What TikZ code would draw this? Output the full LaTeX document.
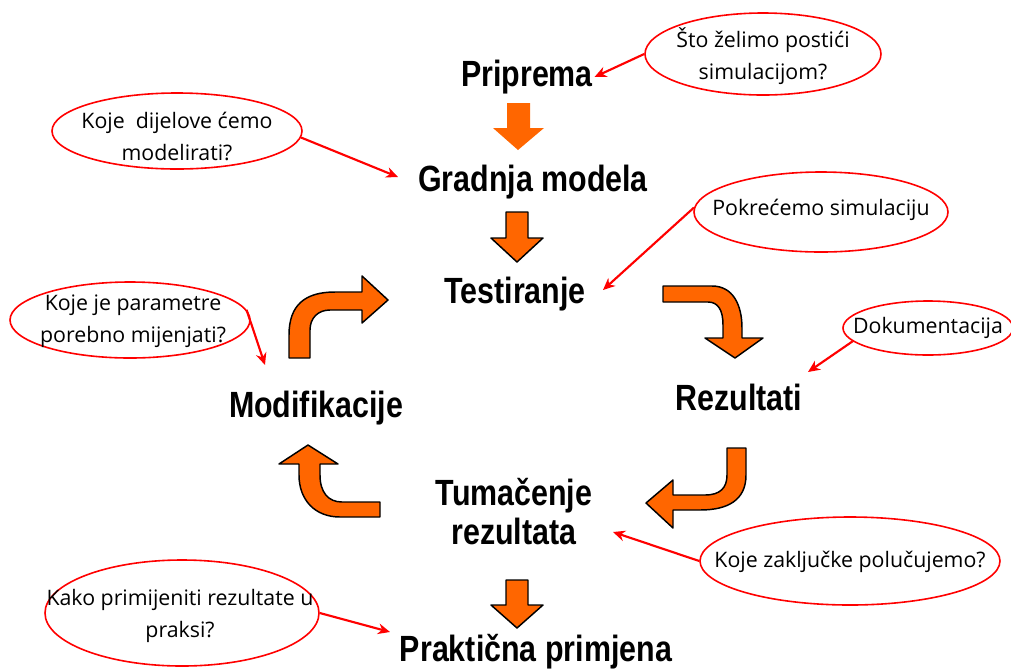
\documentclass[tikz,border=0pt]{standalone}
\usepackage{fontspec}
\setmainfont{Liberation Sans}
\newfontfamily\bubblefont{Open Sans}
\usetikzlibrary{arrows.meta,shapes.geometric}
\definecolor{arrorange}{RGB}{255,102,0}
\definecolor{bubred}{RGB}{255,0,0}
\newcommand{\tallbold}[1]{\scalebox{1}[1.2]{\bfseries #1}}
\begin{document}
\begin{tikzpicture}[x=0.75pt,y=-0.75pt,
 mainlabel/.style={inner sep=1pt, font=\fontsize{22.8}{29.25}\selectfont\bfseries, align=center},
 bubble/.style={ellipse, draw=bubred, line width=1.2pt, fill=white, inner sep=0pt},
 bubbletext/.style={font=\bubblefont\fontsize{16}{24}\selectfont, align=center, inner sep=0pt},
 note/.style={draw=bubred, line width=1.6pt, -{Stealth[length=9pt,width=8pt]}},
 bentarrow/.style={fill=arrorange, draw=black, line width=1.1pt, line join=round},
 plainarrow/.style={fill=arrorange, draw=none},
 ]
\useasboundingbox (0,0) rectangle (1011,669);

% main labels
\node[mainlabel] (prep) at (527,77) {\tallbold{Priprema}};
\node[mainlabel] (grad) at (533,182) {\tallbold{Gradnja modela}};
\node[mainlabel] (test) at (515,294) {\tallbold{Testiranje}};
\node[mainlabel] (rez) at (739,397) {\tallbold{Rezultati}};
\node[mainlabel] (mod) at (316,408) {\tallbold{Modifikacije}};
\node[mainlabel] (tum) at (514,512) {\tallbold{Tumačenje}\\\tallbold{rezultata}};
\node[mainlabel] (prak) at (536,652) {\tallbold{Praktična primjena}};

% straight arrows
\path[plainarrow] (507,103) -- (530,103) -- (530,128) -- (544,128) -- (518,150) -- (493,128) -- (507,128) -- cycle;
\path[bentarrow] (506,212) -- (528,212) -- (528,238) -- (543,238) -- (517,262) -- (491,238) -- (506,238) -- cycle;
\path[bentarrow] (506,580) -- (528,580) -- (528,605) -- (543,605) -- (517,628) -- (491,605) -- (506,605) -- cycle;

% bent arrows
\path[bentarrow] (289,358) -- (289,335) .. controls (289,305) and (305,292) .. (335,292) -- (362,292) -- (362,276) -- (388,300) -- (362,323) -- (362,310) -- (330,310) .. controls (318,310) and (310,318) .. (310,330) -- (310,358) -- cycle;
\path[bentarrow] (663,286) -- (712,286) .. controls (733,286) and (742,305) .. (742,328) -- (742,338) -- (763,338) -- (735,358) -- (705,338) -- (723,338) -- (723,325) .. controls (723,310) and (718,302) .. (708,302) -- (663,302) -- cycle;
\path[bentarrow] (727,448) -- (746,448) -- (746,475) .. controls (746,500) and (728,510) .. (700,510) -- (673,510) -- (673,528) -- (646,503) -- (673,480) -- (673,495) -- (705,495) .. controls (720,495) and (727,488) .. (727,475) -- cycle;
\path[bentarrow] (380,502) -- (380,517) -- (340,517) .. controls (315,517) and (299,500) .. (299,475) -- (299,464) -- (279,464) -- (308,445) -- (338,464) -- (320,464) -- (320,475) .. controls (320,492) and (328,502) .. (342,502) -- cycle;

% bubbles
\node[bubble, minimum width=177pt, minimum height=61.5pt] (e1) at (763,54) {};
\node[bubbletext] (e1t) at (763,56) {Što želimo postići\\simulacijom?};
\node[bubble, minimum width=187.5pt, minimum height=57pt] (e2) at (177,131) {};
\node[bubbletext] (e2t) at (177,136) {Koje \ dijelove ćemo\\modelirati?};
\node[bubble, minimum width=190.5pt, minimum height=60pt] (e3) at (821,212) {};
\node[bubbletext] (e3t) at (821,210) {Pokrećemo simulaciju};
\node[bubble, minimum width=180pt, minimum height=57pt] (e4) at (130,320) {};
\node[bubbletext] (e4t) at (133,321) {Koje je parametre\\porebno mijenjati?};
\node[bubble, minimum width=127.5pt, minimum height=40.5pt] (e5) at (928,328) {};
\node[bubbletext] (e5t) at (928,328) {Dokumentacija};
\node[bubble, minimum width=225pt, minimum height=66pt] (e6) at (850,561) {};
\node[bubbletext] (e6t) at (850,562) {Koje zaključke polučujemo?};
\node[bubble, minimum width=205.5pt, minimum height=79.5pt] (e7) at (182,613) {};
\node[bubbletext] (e7t) at (180,616) {Kako primijeniti rezultate u\\praksi?};

% arrow tips
\coordinate (t2) at (398,177);
\coordinate (t3) at (603,290);
\coordinate (t4) at (265,365);
\coordinate (t5) at (808,372);
\coordinate (t6) at (613,532);
\coordinate (t7) at (390,632);

\draw[note] (e1.west) -- (prep.east);
\draw[note] (e2.-3) -- (t2);
\draw[note] (e3.178) -- (t3);
\draw[note] (e4.5) -- (t4);
\draw[note] (e5.190) -- (t5);
\draw[note] (e6.west) -- (t6);
\draw[note] (e7.east) -- (t7);
\end{tikzpicture}
\end{document}
